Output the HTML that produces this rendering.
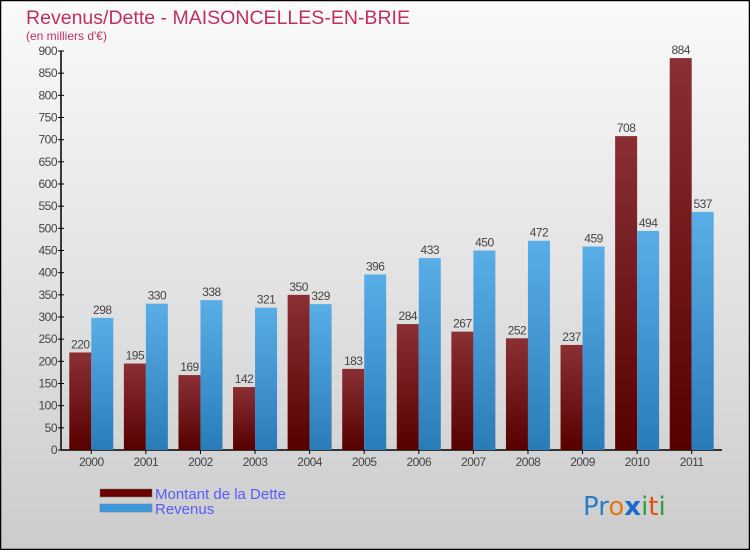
<!DOCTYPE html>
<html><head><meta charset="utf-8"><style>
html,body{margin:0;padding:0}
body{width:750px;height:550px;overflow:hidden;font-family:"Liberation Sans",sans-serif}
</style></head><body>
<svg id="chart" width="750" height="550" xmlns="http://www.w3.org/2000/svg">
<defs>
<linearGradient id="bg" x1="0" y1="0" x2="0" y2="1"><stop offset="0" stop-color="#fafafa"/><stop offset="1" stop-color="#cccccc"/></linearGradient>
<linearGradient id="gd" x1="0" y1="0" x2="0" y2="1"><stop offset="0" stop-color="#8a3035"/><stop offset="1" stop-color="#560000"/></linearGradient>
<linearGradient id="gr" x1="0" y1="0" x2="0" y2="1"><stop offset="0" stop-color="#5aaee8"/><stop offset="1" stop-color="#2a7cb8"/></linearGradient>
</defs>
<rect x="0.5" y="0.5" width="749" height="549" fill="url(#bg)" stroke="#000" stroke-width="1.5"/>
<text x="26" y="24" font-size="19" fill="#c0305f" textLength="384" lengthAdjust="spacingAndGlyphs">Revenus/Dette - MAISONCELLES-EN-BRIE</text>
<text x="26" y="40" font-size="12" fill="#c0305f">(en milliers d'€)</text>
<g id="plot"></g>
<g>
<rect x="100" y="489" width="52" height="8" fill="#6a0000" stroke="#777" stroke-width="0.5"/>
<text x="155" y="499" font-size="15" fill="#5a5aff">Montant de la Dette</text>
<rect x="100" y="504" width="52" height="8" fill="#3a9ae0" stroke="#777" stroke-width="0.5"/>
<text x="155" y="514" font-size="15" fill="#5a5aff">Revenus</text>
</g>
<g font-size="26" font-family="DejaVu Sans, sans-serif">
<text x="583" y="515"><tspan fill="#2a7cc8">P</tspan><tspan fill="#2a7cc8">r</tspan><tspan fill="#e07a10">o</tspan><tspan fill="#1a6ad0" font-weight="bold">x</tspan><tspan fill="#2aa040">i</tspan><tspan fill="#e05010">t</tspan><tspan fill="#2aa040">i</tspan></text>
</g>
</svg>
<script>
const years=["2000","2001","2002","2003","2004","2005","2006","2007","2008","2009","2010","2011"];
const dette=[220,195,169,142,350,183,284,267,252,237,708,884];
const revenus=[298,330,338,321,329,396,433,450,472,459,494,537];
const yTicks=[0,50,100,150,200,250,300,350,400,450,500,550,600,650,700,750,800,850,900];
const NS="http://www.w3.org/2000/svg";
const g=document.getElementById('plot');
const x0=61,x1=722,yBase=450,yTop=51,yMax=900;
const y=v=>yBase-(v/yMax)*(yBase-yTop);
const step=(x1-x0-6)/years.length;
const xc=i=>x0+3+step*(i+0.5);
function mk(t,a){const e=document.createElementNS(NS,t);for(const k in a)e.setAttribute(k,a[k]);g.appendChild(e);return e;}
let ax=mk('line',{x1:x0,y1:yTop,x2:x0,y2:yBase,stroke:'#000','stroke-width':1.5});


let bx=mk('line',{x1:x0,y1:yBase,x2:x1,y2:yBase,stroke:'#000','stroke-width':1.5});


yTicks.forEach(v=>{
 let tk=mk('line',{x1:x0-3,x2:x0+3,y1:y(v),y2:y(v),stroke:'#000'});
 
 
 let t=mk('text',{x:x0-4,y:y(v)+4,'font-size':12,fill:'#444','text-anchor':'end','letter-spacing':'-0.5'});
 
 
 t.textContent=v;
});
const bw=22;
years.forEach((yr,i)=>{
 const c=xc(i);
 let r1=mk('rect',{x:c-bw,y:y(dette[i]),width:bw,height:yBase-y(dette[i]),fill:'url(#gd)'});
 
 
 let r2=mk('rect',{x:c,y:y(revenus[i]),width:bw,height:yBase-y(revenus[i]),fill:'url(#gr)'});
 
 
 let l1=mk('text',{x:c-bw/2,y:y(dette[i])-4,'font-size':12,fill:'#444','text-anchor':'middle','letter-spacing':'-0.5'});
 
 
 l1.textContent=dette[i];
 let l2=mk('text',{x:c+bw/2,y:y(revenus[i])-4,'font-size':12,fill:'#444','text-anchor':'middle','letter-spacing':'-0.5'});
 
 
 l2.textContent=revenus[i];
 let tk=mk('line',{x1:c,x2:c,y1:yBase,y2:yBase+4,stroke:'#000'});
 
 
 let xl=mk('text',{x:c,y:yBase+16,'font-size':12,fill:'#444','text-anchor':'middle','letter-spacing':'-0.5'});
 
 
 xl.textContent=yr;
});
</script>
</body></html>
